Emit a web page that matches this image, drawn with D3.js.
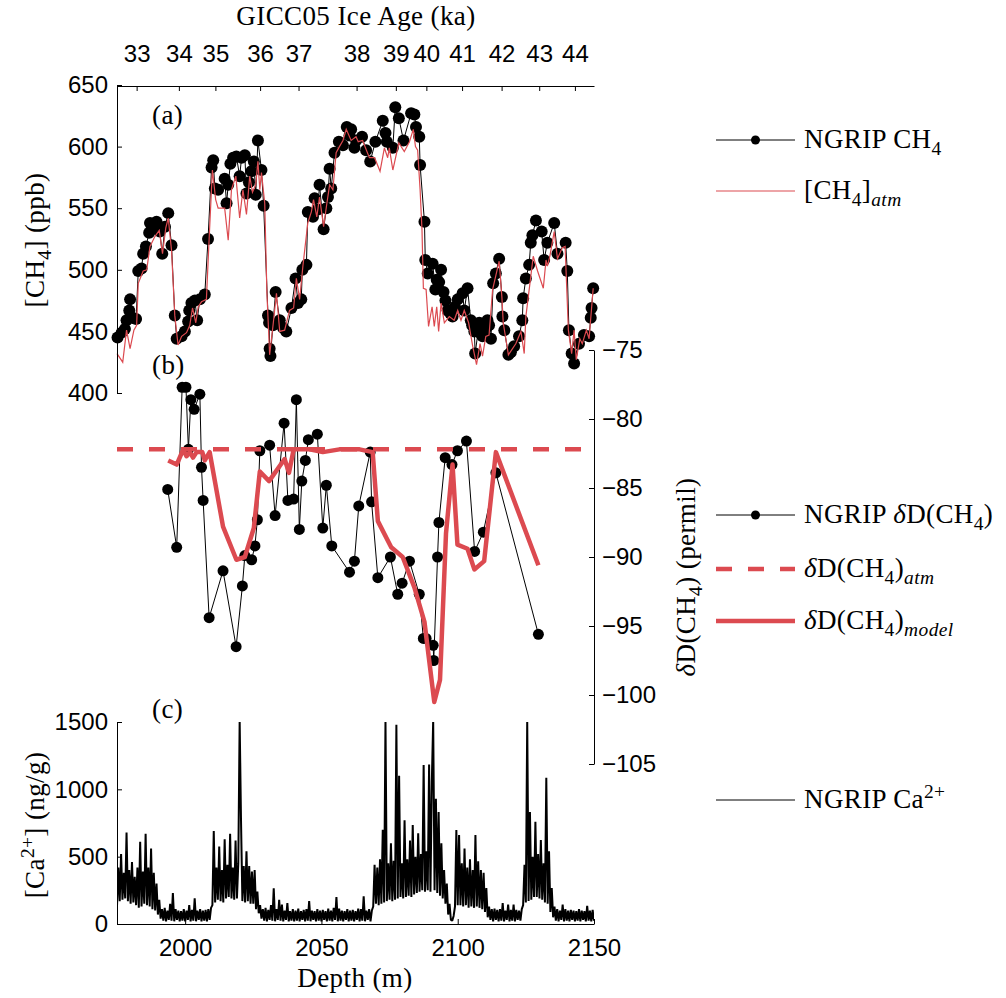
<!DOCTYPE html>
<html>
<head>
<meta charset="utf-8">
<script src="https://cdn.jsdelivr.net/npm/d3@7"></script>
<style>
body{margin:0;background:#fff;}
svg{display:block;}
.tick text{font-family:"Liberation Sans",Arial,sans-serif;font-size:24px;fill:#000;}
.lab{font-family:"Liberation Serif","Times New Roman",serif;font-size:27px;letter-spacing:0.4px;fill:#000;}
</style>
</head>
<body>
<svg id="fig" width="1006" height="998"></svg>
<script>
/*
	NGRIP CH4, dD(CH4) y Ca2+ frente a profundidad
*/

// eje superior: edad GICC05 (ka) y su profundidad
var ageTicks = [33,34,35,36,37,38,39,40,41,42,43,44];
var ageDepth = [1982.2,1997.7,2011.1,2027.5,2041.6,2062.9,2077.3,2088.5,2101.6,2116.1,2129.9,2143.0];

// (a) NGRIP CH4 (ppb)
var ch4Depth = [1975.2,1976.7,1977.9,1978.5,1979.5,1979.8,1980.7,1982.0,1982.8,1984.0,1984.6,1985.6,1986.8,1987.1,1988.3,1989.5,1990.7,1991.6,1992.6,1993.8,
	1995.0,1996.2,1996.9,1998.7,1999.9,2001.1,2001.5,2002.3,2003.6,2004.4,2005.4,2007.2,2008.4,2009.7,2010.3,2010.9,2012.1,2014.5,2015.2,2015.8,
	2016.6,2017.6,2018.8,2020.0,2020.7,2021.9,2022.5,2023.4,2024.3,2025.2,2025.9,2026.7,2028.0,2028.8,2030.4,2030.8,2031.0,2031.3,2032.2,2033.2,
	2034.7,2035.9,2037.1,2039.0,2040.5,2041.4,2042.6,2043.0,2044.5,2045.0,2046.9,2047.5,2048.7,2049.3,2050.8,2051.8,2052.4,2053.0,2053.6,2054.8,
	2056.4,2057.9,2059.3,2060.3,2060.9,2062.1,2062.7,2064.9,2066.4,2067.9,2069.8,2072.5,2073.5,2074.0,2076.2,2077.1,2078.4,2080.1,2082.9,2084.1,
	2084.7,2085.9,2086.2,2087.8,2088.1,2089.0,2090.8,2091.8,2092.3,2093.2,2093.9,2094.8,2095.5,2096.3,2097.2,2098.1,2099.0,2100.0,2101.8,2102.4,
	2103.6,2104.8,2105.3,2106.1,2106.4,2107.9,2108.5,2109.1,2110.2,2110.9,2111.5,2112.2,2113.0,2114.0,2115.2,2116.2,2116.4,2117.1,2118.6,2119.5,
	2120.7,2122.5,2123.7,2124.0,2125.0,2126.2,2126.8,2127.4,2128.7,2130.8,2131.7,2132.9,2135.4,2136.6,2139.6,2140.2,2140.8,2141.8,2142.7,2144.5,
	2146.3,2148.2,2148.8,2149.1,2149.7];
var ch4Val = [445,449,452,459,467,476,461,460,499,501,513,519,530,538,534,539,531,513,535,546,
	520,463,444,446,450,458,467,473,475,459,476,480,525,583,589,566,565,574,554,569,
	586,591,592,576,591,593,562,571,580,588,561,605,581,552,463,457,436,430,455,482,
	459,453,450,469,493,473,476,500,504,547,543,558,549,569,533,550,559,582,566,595,
	604,601,616,609,614,599,605,608,597,588,604,621,611,604,599,632,623,605,627,626,
	616,608,585,539,508,497,505,484,492,490,500,482,475,467,465,462,470,476,481,467,
	485,459,455,450,432,457,448,446,452,459,455,444,489,497,509,478,462,451,431,433,
	438,446,459,477,493,504,522,528,540,531,508,522,538,513,522,499,451,432,424,440,
	447,446,461,469,485];

// (a) [CH4]atm (ppb)
var atmDepth = [1975.0,1977.1,1978.5,1979.8,1981.2,1982.2,1982.8,1984.6,1985.9,1987.1,1988.9,1990.5,1991.7,1992.9,1993.8,1995.0,1996.2,1997.4,1998.7,2000.5,
	2001.7,2002.7,2003.9,2004.8,2006.0,2007.8,2008.8,2010.0,2011.2,2012.1,2014.5,2015.8,2017.0,2018.6,2020.0,2021.2,2022.5,2023.7,2024.7,2025.9,
	2026.7,2027.4,2028.0,2029.2,2030.0,2031.0,2032.2,2033.5,2034.7,2036.5,2038.3,2039.8,2040.8,2042.0,2043.2,2045.0,2046.3,2047.1,2048.3,2049.3,
	2050.8,2052.0,2053.0,2054.2,2055.4,2056.6,2057.9,2059.1,2060.9,2062.7,2063.5,2065.1,2067.6,2069.5,2071.5,2073.1,2074.3,2074.9,2076.2,2078.4,
	2080.4,2082.3,2083.7,2084.5,2085.3,2086.2,2086.9,2087.4,2088.4,2089.3,2090.6,2091.4,2092.3,2093.0,2093.9,2095.1,2096.9,2098.7,2100.0,2101.2,
	2102.4,2104.0,2105.5,2106.9,2108.2,2109.1,2110.3,2111.5,2112.8,2115.2,2116.2,2116.7,2118.6,2121.3,2123.2,2124.4,2125.0,2126.5,2127.7,2129.3,
	2131.4,2132.4,2132.9,2133.8,2135.4,2136.6,2138.4,2139.4,2140.6,2141.8,2142.7,2143.5,2144.8,2145.7,2147.2,2148.2,2149.7];
var atmVal = [432,425,451,436,451,455,489,499,500,519,527,532,513,534,542,516,463,439,446,449,
	455,469,457,470,474,476,525,581,557,550,550,524,565,576,542,565,545,576,563,569,
	588,565,579,554,481,431,454,481,450,451,467,469,493,476,503,538,547,557,543,559,
	535,554,569,565,595,600,605,614,605,608,604,605,591,591,580,599,591,599,581,603,
	596,604,614,600,597,565,532,485,484,454,470,454,470,450,473,457,462,459,467,459,
	467,457,438,423,440,430,446,447,484,507,478,457,431,440,450,432,462,489,511,499,
	485,508,503,511,531,509,518,519,451,432,451,427,444,440,451,444,485];

// (b) NGRIP dD(CH4) (permil)
var dDDepth = [1993.6,1996.9,1998.9,2000.3,2001.2,2002.1,2003.3,2005.4,2006.0,2006.6,2008.8,2013.9,2018.7,2021.0,2021.9,2024.4,2025.6,2026.5,2027.4,2031.0,
	2033.0,2036.3,2037.7,2039.8,2040.8,2041.9,2042.8,2044.1,2045.2,2048.5,2050.5,2051.8,2053.8,2060.3,2062.1,2063.7,2067.9,2068.4,2070.7,2075.3,
	2078.0,2079.6,2082.3,2085.9,2087.4,2088.4,2091.0,2091.2,2092.6,2093.1,2095.4,2097.9,2099.9,2103.2,2106.2,2109.4,2114.0,2129.6];
var dDVal = [-85.1,-89.3,-77.7,-77.7,-82.2,-78.6,-79.3,-78.2,-83.5,-85.9,-94.4,-91.0,-96.5,-92.1,-89.9,-90.2,-89.2,-87.3,-82.3,-81.9,
	-87.0,-80.3,-85.9,-85.8,-78.6,-88.0,-84.5,-83.0,-81.5,-81.1,-87.9,-84.8,-89.2,-91.1,-90.3,-86.3,-82.4,-86.0,-91.5,-90.0,
	-92.7,-91.9,-90.3,-92.7,-95.9,-95.9,-96.4,-97.5,-90.0,-87.5,-82.8,-83.3,-82.3,-81.6,-89.6,-88.2,-83.9,-95.6];

// (b) dD(CH4)atm constante
var dDAtmDepth = [1975,2150];
var dDAtmVal = [-82.2,-82.2];

// (b) dD(CH4)model
var modelDepth = [1993.8,1996.9,1999.3,2000.5,2001.7,2002.9,2004.2,2006.3,2007.2,2009.0,2013.9,2018.8,2021.9,2025.2,2027.4,2030.8,2036.5,2038.1,2039.8,2045.7,
	2050.5,2056.6,2064.0,2068.8,2070.7,2075.6,2079.8,2084.1,2087.8,2091.4,2093.5,2095.7,2098.1,2099.9,2103.6,2106.1,2109.7,2114.0,2129.6];
var modelVal = [-83.0,-83.3,-82.2,-82.7,-82.4,-82.8,-82.4,-82.4,-83.0,-82.4,-87.8,-90.2,-90.0,-87.9,-83.8,-84.5,-82.9,-83.9,-82.2,-82.2,
	-82.4,-82.2,-82.2,-82.4,-87.4,-89.3,-90.0,-92.2,-94.7,-100.5,-98.9,-88.3,-83.3,-89.1,-89.4,-90.9,-90.3,-82.4,-90.6];

// (c) NGRIP Ca2+ (ng/g), cada 0.5 m desde 1975 m
var caStart = 1975, caStep = 0.5;
var caVal = [130,420,170,520,180,380,190,680,170,400,150,460,160,350,140,420,120,610,130,390,
	150,670,140,420,130,560,110,380,100,300,70,180,40,110,25,120,20,100,30,150,
	25,230,20,110,30,100,20,95,25,110,20,100,30,140,20,105,25,190,20,100,
	30,110,20,100,25,105,20,110,30,120,140,690,160,420,180,575,170,400,160,630,
	190,440,200,670,190,420,180,620,190,450,1510,765,170,430,160,540,170,430,150,390,
	150,400,110,240,80,140,40,110,25,120,20,105,30,140,25,265,20,110,30,180,
	25,145,20,100,30,155,20,95,25,110,20,100,25,115,20,95,30,105,20,110,
	25,170,20,100,30,95,20,110,25,100,20,105,30,95,20,115,25,100,20,120,
	30,200,20,115,25,100,20,95,30,110,20,100,25,105,20,95,30,115,20,110,
	25,205,20,100,30,110,20,100,130,440,150,420,140,480,150,700,160,1510,170,450,
	180,600,170,470,180,1480,190,1100,200,450,190,770,200,480,210,620,200,735,220,500,
	230,673,240,520,250,1180,240,540,250,1185,240,1054,1510,250,930,230,831,210,600,190,
	400,150,300,70,150,30,25,60,130,698,140,660,140,450,130,560,140,420,120,480,
	130,400,120,660,130,465,120,400,110,380,90,267,50,130,30,110,20,115,30,105,
	20,110,25,155,20,100,30,145,20,105,25,145,20,105,30,100,25,110,140,440,
	160,1510,170,831,180,500,200,760,200,520,190,624,180,450,160,1086,150,540,90,267,
	50,130,25,110,20,100,30,145,20,110,25,100,20,105,30,100,20,95,25,110,
	20,100,30,95,20,135,25,100,20,105,25];

var rojo = '#dc4a50';

var svg = d3.select('#fig');
var x = d3.scaleLinear().domain([1975,2150]).range([117,594]);
var yA = d3.scaleLinear().domain([400,650]).range([393,85]);
var yB = d3.scaleLinear().domain([-105,-75]).range([764,350]);
var yC = d3.scaleLinear().domain([0,1500]).range([924,722]);

function init(){
	panelC();
	panelA();
	panelB();
	ejes();
	leyendas();
}

// texto con subindices / superindices
function rich(t, parts){
	var shift = 0;
	parts.forEach(function(p){
		var s = p[1] || '';
		var target = s.indexOf('sub') >= 0 ? 7 : (s.indexOf('sup') >= 0 ? -10 : 0);
		var ts = t.append('tspan').attr('dy', target - shift).text(p[0]);
		if (target !== 0) ts.attr('font-size', '0.72em');
		if (s.charAt(0) === 'i') ts.attr('font-style', 'italic');
		shift = target;
	});
	return t;
}

function pares(dx, dy){
	return dx.map(function(d, i){ return [d, dy[i]]; });
}

//Panel (a)

function panelA(){
	var g = svg.append('g');
	var linea = d3.line().x(function(d){ return x(d[0]); });
	var pts = pares(ch4Depth, ch4Val);
	g.append('path')
		.attr('d', linea.y(function(d){ return yA(d[1]); })(pts))
		.attr('fill', 'none')
		.attr('stroke', 'black')
		.attr('stroke-width', 1);
	g.selectAll('circle.ch4').data(pts).enter().append('circle')
		.attr('cx', function(d){ return x(d[0]); })
		.attr('cy', function(d){ return yA(d[1]); })
		.attr('r', 6)
		.attr('fill', 'black');
	g.append('path')
		.attr('d', linea.y(function(d){ return yA(d[1]); })(pares(atmDepth, atmVal)))
		.attr('fill', 'none')
		.attr('stroke', rojo)
		.attr('stroke-width', 1.2);
	svg.append('text').attr('class', 'lab').attr('x', 152).attr('y', 124).text('(a)');
	rich(svg.append('text').attr('class', 'lab').attr('text-anchor', 'middle')
		.attr('transform', 'translate(44,240) rotate(-90)'),
		[['[CH'], ['4', 'sub'], ['] (ppb)']]);
}

//Panel (b)

function panelB(){
	var g = svg.append('g');
	var linea = d3.line().x(function(d){ return x(d[0]); }).y(function(d){ return yB(d[1]); });
	var pts = pares(dDDepth, dDVal);
	g.append('path')
		.attr('d', linea(pts))
		.attr('fill', 'none')
		.attr('stroke', 'black')
		.attr('stroke-width', 1);
	g.selectAll('circle.dd').data(pts).enter().append('circle')
		.attr('cx', function(d){ return x(d[0]); })
		.attr('cy', function(d){ return yB(d[1]); })
		.attr('r', 5.5)
		.attr('fill', 'black');
	g.append('path')
		.attr('d', linea(pares(dDAtmDepth, dDAtmVal)))
		.attr('fill', 'none')
		.attr('stroke', rojo)
		.attr('stroke-width', 4.5)
		.attr('stroke-dasharray', '16,16');
	g.append('path')
		.attr('d', linea(pares(modelDepth, modelVal)))
		.attr('fill', 'none')
		.attr('stroke', rojo)
		.attr('stroke-width', 4.5)
		.attr('stroke-linejoin', 'round');
	svg.append('text').attr('class', 'lab').attr('x', 152).attr('y', 374).text('(b)');
	rich(svg.append('text').attr('class', 'lab').attr('text-anchor', 'middle')
		.attr('transform', 'translate(695,577) rotate(-90)'),
		[['δ', 'i'], ['D(CH'], ['4', 'sub'], [') (permil)']]);
}

//Panel (c)

function panelC(){
	svg.append('clipPath').attr('id', 'clipC')
		.append('rect').attr('x', 117).attr('y', 722).attr('width', 477).attr('height', 203);
	var pts = caVal.map(function(v, i){ return [caStart + i * caStep, v]; });
	svg.append('path')
		.attr('clip-path', 'url(#clipC)')
		.attr('d', d3.line().x(function(d){ return x(d[0]); }).y(function(d){ return yC(d[1]); })(pts))
		.attr('fill', 'none')
		.attr('stroke', 'black')
		.attr('stroke-width', 2)
		.attr('stroke-linejoin', 'bevel');
	svg.append('text').attr('class', 'lab').attr('x', 152).attr('y', 718).text('(c)');
	rich(svg.append('text').attr('class', 'lab').attr('text-anchor', 'middle')
		.attr('transform', 'translate(44,825) rotate(-90)'),
		[['[Ca'], ['2+', 'sup'], ['] (ng/g)']]);
	svg.append('text').attr('class', 'lab').attr('text-anchor', 'middle')
		.attr('x', 355).attr('y', 987).text('Depth (m)');
}

//Ejes

function ejes(){
	svg.append('g').attr('transform', 'translate(0,86)')
		.call(d3.axisTop(x).tickValues(ageDepth)
			.tickFormat(function(d, i){ return ageTicks[i]; })
			.tickSize(-5).tickSizeOuter(0).tickPadding(24));
	svg.append('text').attr('class', 'lab').attr('text-anchor', 'middle')
		.attr('x', 356).attr('y', 25).text('GICC05 Ice Age (ka)');

	svg.append('g').attr('transform', 'translate(117,0)')
		.call(d3.axisLeft(yA).tickValues([400,450,500,550,600,650])
			.tickSize(-5).tickSizeOuter(0).tickPadding(9));

	svg.append('g').attr('transform', 'translate(594,0)')
		.call(d3.axisRight(yB).tickValues([-105,-100,-95,-90,-85,-80,-75])
			.tickSize(-5).tickSizeOuter(0).tickPadding(8));

	svg.append('g').attr('transform', 'translate(117,0)')
		.call(d3.axisLeft(yC).tickValues([0,500,1000,1500])
			.tickFormat(d3.format('d'))
			.tickSize(-5).tickSizeOuter(0).tickPadding(9));

	svg.append('g').attr('transform', 'translate(0,924)')
		.call(d3.axisBottom(x).tickValues([2000,2050,2100,2150])
			.tickFormat(d3.format('d'))
			.tickSize(-5).tickSizeOuter(0).tickPadding(15));
}

//Leyendas

function leyendas(){
	var x0 = 716, x1 = 795, xt = 804;
	function fila(y, color, ancho, dash, marca, parts){
		var l = svg.append('line').attr('x1', x0).attr('x2', x1).attr('y1', y).attr('y2', y)
			.attr('stroke', color).attr('stroke-width', ancho);
		if (dash) l.attr('stroke-dasharray', dash);
		if (marca) svg.append('circle').attr('cx', (x0 + x1) / 2).attr('cy', y).attr('r', 4.5).attr('fill', 'black');
		rich(svg.append('text').attr('class', 'lab').attr('x', xt).attr('y', y + 8), parts);
	}
	fila(140, 'black', 1, null, true, [['NGRIP CH'], ['4', 'sub']]);
	fila(191, rojo, 1.2, null, false, [['[CH'], ['4', 'sub'], [']'], ['atm', 'isub']]);
	fila(515, 'black', 1, null, true, [['NGRIP '], ['δ', 'i'], ['D(CH'], ['4', 'sub'], [')']]);
	fila(569, rojo, 4.5, '16,16', false, [['δ', 'i'], ['D(CH'], ['4', 'sub'], [')'], ['atm', 'isub']]);
	fila(621, rojo, 4.5, null, false, [['δ', 'i'], ['D(CH'], ['4', 'sub'], [')'], ['model', 'isub']]);
	fila(800, 'black', 1, null, false, [['NGRIP Ca'], ['2+', 'sup']]);
}

init();
</script>
</body>
</html>
